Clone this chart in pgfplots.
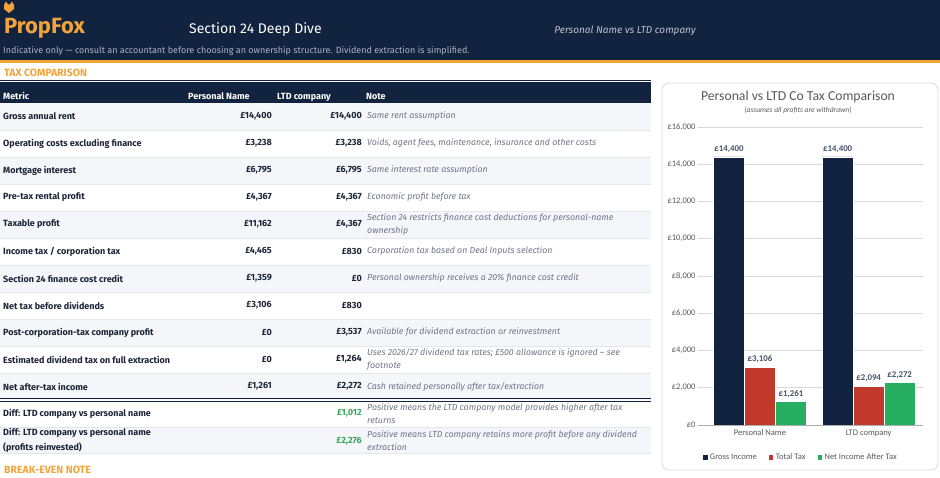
\documentclass[border=0pt]{standalone}
\usepackage{pgfplots}
\pgfplotsset{compat=1.18}
\usepackage{fontspec}
\setmainfont{Fira Sans}
\newfontfamily\chartfont{Carlito}
\definecolor{navy}{HTML}{12233F}
\definecolor{fox}{HTML}{F2A43A}
\definecolor{ink}{HTML}{1B2535}
\definecolor{notegray}{HTML}{6E7685}
\definecolor{rowgray}{HTML}{F4F6F9}
\definecolor{sepgray}{HTML}{E3E7ED}
\definecolor{subtle}{HTML}{A9B3C4}
\definecolor{diffgreen}{HTML}{3AA55D}
\definecolor{taxred}{HTML}{C0392B}
\definecolor{netgreen}{HTML}{27AE60}
\definecolor{labgray}{HTML}{595959}
\definecolor{lblblue}{HTML}{44546A}
\definecolor{gridgray}{HTML}{D9D9D9}
\newcommand{\mfont}{\fontsize{9}{11}\selectfont\bfseries}
\newcommand{\nfont}{\fontsize{8.8}{12.5}\selectfont\itshape}
% one table row: y centre, metric, personal, ltd, note
\newcommand{\trow}[5]{%
  \node[anchor=west,inner sep=0,font=\mfont,text=ink,align=left] at (3,#1) {#2};
  \node[anchor=east,inner sep=0,font=\mfont,text=ink] at (272,#1) {#3};
  \node[anchor=east,inner sep=0,font=\mfont,text=ink] at (362,#1) {#4};
  \node[anchor=west,inner sep=0,font=\nfont,text=notegray,align=left] at (367,#1) {#5};}

\begin{document}
\begin{tikzpicture}
\useasboundingbox (0pt,0pt) rectangle (940pt,-478pt);
\begin{scope}[x=1pt,y=-1pt]
  % header band
  \fill[navy] (0,0) rectangle (940,60);
  \fill[fox] (0,60) rectangle (940,63.5);
  \fill[fox] (4,5) -- (6,1.5) -- (8,4.5) -- (10,4.5) -- (12,1.5) -- (14,5) -- (14,9) -- (9,13) -- (4,9) -- cycle;
  \node[anchor=base west,inner sep=0,font=\fontsize{22}{24}\selectfont\bfseries,text=fox] at (4,34) {PropFox};
  \node[anchor=base west,inner sep=0,font=\fontsize{14}{16}\selectfont,text=white] at (189,34) {Section 24 Deep Dive};
  \node[anchor=base east,inner sep=0,font=\fontsize{10}{12}\selectfont\itshape,text=subtle!80!white] at (696,33.5) {Personal Name vs LTD company};
  \node[anchor=base west,inner sep=0,font=\fontsize{9}{11}\selectfont,text=subtle] at (3,54) {Indicative only — consult an accountant before choosing an ownership structure. Dividend extraction is simplified.};
  \node[anchor=base west,inner sep=0,font=\fontsize{10.5}{12}\selectfont\bfseries,text=fox] at (4,76.5) {TAX COMPARISON};
  % table header
  \fill[navy] (0,80) rectangle (651,103);
  \fill[white] (0,81) rectangle (651,81.6);
  \foreach \x/\t in {3/Metric,188/Personal Name,277/LTD company,366/Note}
    \node[anchor=base west,inner sep=0,font=\fontsize{9}{11}\selectfont\bfseries,text=white] at (\x,100) {\t};
  % row backgrounds
  \foreach \k in {0,2,4,6,8,10}
    \fill[rowgray] (0,103+27*\k) rectangle (651,130+27*\k);
  \fill[rowgray] (0,427) rectangle (651,453);
  \foreach \k in {1,...,10}
    \draw[sepgray,line width=0.9pt] (0,103+27*\k) -- (651,103+27*\k);
  \draw[sepgray,line width=0.9pt] (0,427) -- (651,427);
  \draw[sepgray,line width=0.9pt] (0,453) -- (651,453);
  \draw[navy,line width=1.3pt] (0,398.3) -- (651,398.3);
  \draw[navy,line width=0.6pt] (0,401.5) -- (651,401.5);
  % rows
  \trow{116.5}{Gross annual rent}{£14,400}{£14,400}{Same rent assumption}
  \trow{143.5}{Operating costs excluding finance}{£3,238}{£3,238}{Voids, agent fees, maintenance, insurance and other costs}
  \trow{170.5}{Mortgage interest}{£6,795}{£6,795}{Same interest rate assumption}
  \trow{197.5}{Pre-tax rental profit}{£4,367}{£4,367}{Economic profit before tax}
  \trow{224.5}{Taxable profit}{£11,162}{£4,367}{Section 24 restricts finance cost deductions for personal-name\\ownership}
  \trow{251.5}{Income tax / corporation tax}{£4,465}{£830}{Corporation tax based on Deal Inputs selection}
  \trow{278.5}{Section 24 finance cost credit}{£1,359}{£0}{Personal ownership receives a 20\% finance cost credit}
  \trow{305.5}{Net tax before dividends}{£3,106}{£830}{}
  \trow{332.5}{Post-corporation-tax company profit}{£0}{£3,537}{Available for dividend extraction or reinvestment}
  \trow{359.5}{Estimated dividend tax on full extraction}{£0}{£1,264}{Uses 2026/27 dividend tax rates; £500 allowance is ignored – see\\footnote}
  \trow{386.5}{Net after-tax income}{£1,261}{£2,272}{Cash retained personally after tax/extraction}
  \node[anchor=west,inner sep=0,font=\mfont,text=ink] at (3,413.5) {Diff: LTD company vs personal name};
  \node[anchor=east,inner sep=0,font=\mfont,text=diffgreen] at (362,413.5) {£1,012};
  \node[anchor=west,inner sep=0,font=\nfont,text=notegray,align=left] at (367,413.5) {Positive means the LTD company model provides higher after tax\\returns};
  \node[anchor=west,inner sep=0,font=\fontsize{9}{14.5}\selectfont\bfseries,text=ink,align=left] at (3,440.5) {Diff: LTD company vs personal name\\(profits reinvested)};
  \node[anchor=east,inner sep=0,font=\mfont,text=diffgreen] at (362,441) {£2,276};
  \node[anchor=west,inner sep=0,font=\nfont,text=notegray,align=left] at (367,440.5) {Positive means LTD company retains more profit before any dividend\\extraction};
  \node[anchor=base west,inner sep=0,font=\fontsize{10.5}{12}\selectfont\bfseries,text=fox] at (4,473) {BREAK-EVEN NOTE};
  % chart panel
  \draw[gridgray,fill=white,rounded corners=7pt,line width=0.8pt] (662,83) rectangle (938,470);
  \node[font=\chartfont\fontsize{13.7}{15}\selectfont,text=labgray] at (798,97) {Personal vs LTD Co Tax Comparison};
  \node[font=\chartfont\itshape\fontsize{7.5}{8}\selectfont,text=labgray] at (798,110) {(assumes all profits are withdrawn)};
\end{scope}
\begin{axis}[
  at={(698pt,-425pt)}, anchor=south west,
  scale only axis, width=225pt, height=298pt,
  ybar=0pt, bar width=31pt,
  xmin=-0.57, xmax=1.5, ymin=0, ymax=16000,
  xtick={0,1}, xticklabels={Personal Name,LTD company},
  ytick={0,2000,...,16000},
  scaled y ticks=false,
  /pgf/number format/assume math mode=true,
  /pgf/number format/1000 sep={,},
  yticklabel={£\pgfmathprintnumber{\tick}},
  axis line style={draw=none},
  major tick length=0pt,
  ymajorgrids, grid style={draw=gridgray,line width=0.7pt},
  tick label style={font=\chartfont\fontsize{8.5}{10}\selectfont,text=labgray},
  yticklabel style={xshift=1pt},
  xticklabel style={yshift=-1.5pt},
  nodes near coords={£\pgfmathprintnumber{\pgfplotspointmeta}},
  nodes near coords style={font=\chartfont\bfseries\fontsize{8.8}{10}\selectfont,text=lblblue,yshift=0.5pt},
  legend style={at={(0.455,0)},anchor=center,yshift=-32pt,draw=none,fill=none,
    legend columns=3,font=\chartfont\fontsize{8.5}{10}\selectfont,text=labgray,
    /tikz/every even column/.append style={column sep=9pt}},
  legend image code/.code={\fill[#1] (0pt,-2.8pt) rectangle (5.6pt,2.8pt);},
  clip=false,
]
\addplot[fill=navy,draw=white,line width=0.4pt] coordinates {(0,14400) (1,14400)};
\addplot[fill=taxred,draw=white,line width=0.4pt] coordinates {(0,3106) (1,2094)};
\addplot[fill=netgreen,draw=white,line width=0.4pt] coordinates {(0,1261) (1,2272)};
\legend{Gross Income,Total Tax,Net Income After Tax}
\draw[gridgray!80!black,line width=0.7pt] (rel axis cs:0,0) -- (rel axis cs:1,0);
\end{axis}
\end{tikzpicture}
\end{document}
